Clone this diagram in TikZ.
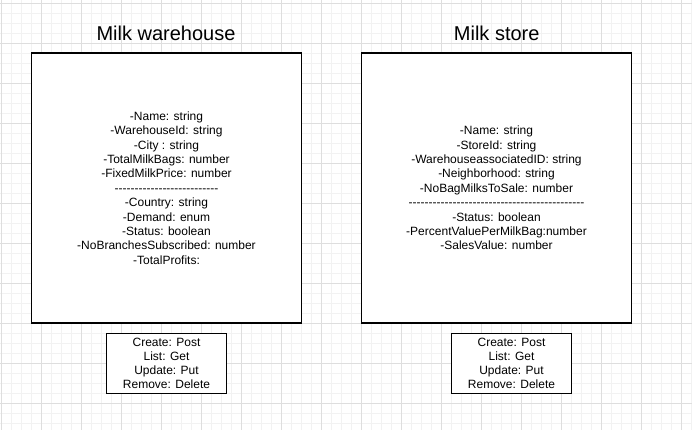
\documentclass[tikz,border=0pt]{standalone}
\usepackage{fontspec}
\setmainfont{Liberation Sans}[Ligatures=TeXOff]
\newfontfamily\titlefont{Liberation Sans}[Ligatures=TeXOff]
\begin{document}
\begin{tikzpicture}[x=1bp,y=-1bp,
  classbox/.style={draw=black, line width=1.3bp, fill=white, minimum width=270.4bp, minimum height=270bp, inner sep=0pt, align=center, font=\fontsize{12bp}{14.4bp}\selectfont},
  apibox/.style={draw=black, line width=1.3bp, fill=white, minimum width=120.4bp, minimum height=60bp, inner sep=0pt, align=center, font=\fontsize{12bp}{14.1bp}\selectfont},
  titletext/.style={font=\titlefont\fontsize{20bp}{24bp}\selectfont, inner sep=0pt}]
\useasboundingbox (0,0) rectangle (692,430);
\fill[white] (0,0) rectangle (692,430);
% minor grid
\foreach \x in {1,11,...,691} \draw[black!5, line width=0.8bp] (\x,0) -- (\x,430);
\foreach \y in {3,13,...,429} \draw[black!5, line width=0.8bp] (0,\y) -- (692,\y);
% major grid
\foreach \x in {1,41,...,681} \draw[black!13, line width=0.9bp] (\x,0) -- (\x,430);
\foreach \y in {3,43,...,403} \draw[black!13, line width=0.9bp] (0,\y) -- (692,\y);

\node[titletext] (t1) at (166,33) {Milk warehouse};
\node[titletext] (t2) at (496.7,33) {Milk store};

\node[classbox] (wh) at (166.5,188) {-Name: string\\-WarehouseId: string\\-City : string\\-TotalMilkBags: number\\-FixedMilkPrice: number\\--------------------------\\-Country: string\\-Demand: enum\\-Status: boolean\\-NoBranchesSubscribed: number\\-TotalProfits:};
\node[classbox] (st) at (496.5,188) {-Name: string\\-StoreId: string\\-WarehouseassociatedID: string\\-Neighborhood: string\\-NoBagMilksToSale: number\\--------------------------------------------\\-Status: boolean\\-PercentValuePerMilkBag:number\\-SalesValue: number};

\node[apibox] (wapi) at (166.5,363.3) {Create: Post\\List: Get\\Update: Put\\Remove: Delete};
\node[apibox] (sapi) at (511.5,363.3) {Create: Post\\List: Get\\Update: Put\\Remove: Delete};
\end{tikzpicture}
\end{document}
